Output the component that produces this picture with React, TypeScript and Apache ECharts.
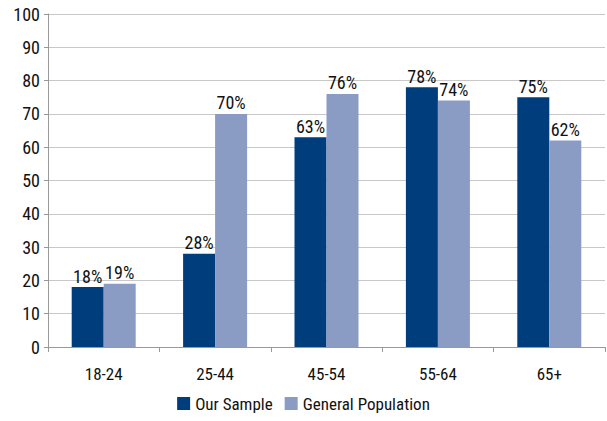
import React, { useEffect, useRef } from "react";
import * as echarts from "echarts";

const categories = ["18-24", "25-44", "45-54", "55-64", "65+"];
const ourSample = [18, 28, 63, 78, 75];
const generalPopulation = [19, 70, 76, 74, 62];
const seriesNames = ["Our Sample", "General Population"];
const yTicks = { min: 0, max: 100, interval: 10 };

const FONT = "'Liberation Sans Narrow', 'Roboto Condensed', 'Arial Narrow', Roboto, sans-serif";

export default function App() {
  const ref = useRef<HTMLDivElement>(null);
  useEffect(() => {
    if (!ref.current) return;
    const chart = echarts.init(ref.current, null, { renderer: "svg" });
    const label = {
      show: true,
      position: "top" as const,
      distance: 2,
      formatter: "{c}%",
      color: "#111",
      fontSize: 18,
      fontFamily: FONT,
    };
    chart.setOption({
      animation: false,
      textStyle: { fontFamily: FONT },
      grid: { left: 48, right: 2, top: 14, bottom: 74, containLabel: false },
      legend: {
        bottom: 4,
        left: "center",
        itemWidth: 13,
        itemHeight: 13,
        itemGap: 12,
        icon: "rect",
        textStyle: { fontSize: 17, color: "#111", fontFamily: FONT },
        data: seriesNames,
      },
      xAxis: {
        type: "category",
        data: categories,
        axisLine: { lineStyle: { color: "#999" } },
        axisTick: { show: true, length: 5, lineStyle: { color: "#999" } },
        axisLabel: { color: "#111", fontSize: 17, margin: 18, fontFamily: FONT },
      },
      yAxis: {
        type: "value",
        min: yTicks.min,
        max: yTicks.max,
        interval: yTicks.interval,
        axisLine: { show: true, lineStyle: { color: "#999" } },
        axisTick: { show: true, length: 4, lineStyle: { color: "#999" } },
        splitLine: { lineStyle: { color: "#c8c8c8" } },
        axisLabel: { color: "#111", fontSize: 18, margin: 8, fontFamily: FONT },
      },
      series: [
        {
          name: seriesNames[0],
          type: "bar",
          data: ourSample,
          barWidth: 32,
          barGap: "0%",
          itemStyle: { color: "#003D7C" },
          label,
        },
        {
          name: seriesNames[1],
          type: "bar",
          data: generalPopulation,
          barWidth: 32,
          itemStyle: { color: "#8A9BC4" },
          label,
        },
      ],
    });
    return () => chart.dispose();
  }, []);
  return <div ref={ref} style={{ width: 607, height: 421, position: "absolute", left: 0, top: 0 }} />;
}
